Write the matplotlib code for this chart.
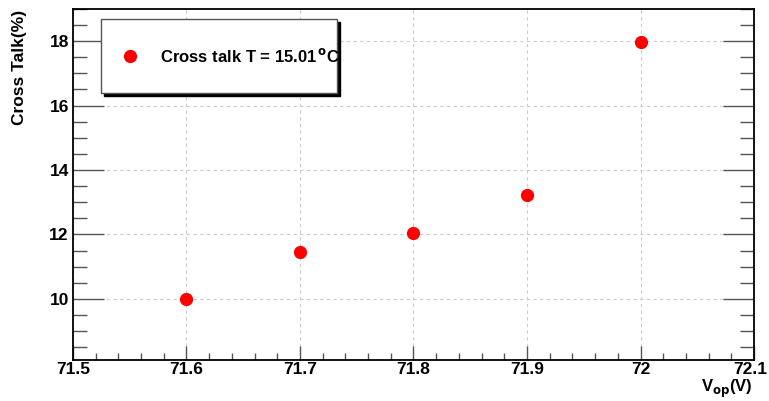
import matplotlib
matplotlib.use("Agg")
import matplotlib.pyplot as plt
import matplotlib.transforms as mtransforms
from matplotlib.ticker import MultipleLocator
from matplotlib.patches import Rectangle

plt.rcParams['font.family'] = ['Liberation Sans', 'DejaVu Sans']
plt.rcParams['font.weight'] = 'bold'
plt.rcParams['mathtext.default'] = 'bf'

# data
vop = [71.6, 71.7, 71.8, 71.9, 72.0]
cross_talk = [10.0, 11.45, 12.03, 13.22, 17.97]
x_ticks = [71.5, 71.6, 71.7, 71.8, 71.9, 72.0, 72.1]
x_tick_labels = ["71.5", "71.6", "71.7", "71.8", "71.9", "72", "72.1"]

fig = plt.figure(figsize=(7.69, 4.01), dpi=100)
ax = fig.add_axes([0.0949, 0.1022, 0.8856, 0.8754])

ax.plot(vop, cross_talk, 'o', color='#ff0000', markersize=8.5, zorder=3)

ax.set_xlim(71.5, 72.1)
ax.set_ylim(8.1, 19.0)
ax.set_xticks(x_ticks)
ax.set_xticklabels(x_tick_labels)
ax.xaxis.set_minor_locator(MultipleLocator(0.02))
ax.yaxis.set_major_locator(MultipleLocator(2))
ax.yaxis.set_minor_locator(MultipleLocator(0.5))

ax.grid(True, which='major', linestyle=(0, (3, 3)), color='#cccccc', linewidth=0.8)
ax.tick_params(which='both', direction='in', right=True, top=False, labelsize=12.5, color='#555555')
ax.tick_params(axis='y', which='major', length=22, width=1, pad=3)
ax.tick_params(axis='y', which='minor', length=10, width=1)
ax.tick_params(axis='x', which='major', length=10, width=1, pad=1.5)
ax.tick_params(axis='x', which='minor', length=5, width=1)
for lab in ax.get_xticklabels() + ax.get_yticklabels():
    lab.set_fontweight('bold')
for s in ax.spines.values():
    s.set_linewidth(1.3)

# keep the last x label inside the canvas
last = ax.get_xticklabels()[-1]
last.set_transform(last.get_transform() + mtransforms.ScaledTranslation(-4 / 100, 0, fig.dpi_scale_trans))

fig.text(0.025, 0.975, "Cross Talk(%)", rotation=90, ha='center', va='top',
         fontsize=12.5, fontweight='bold')
fig.text(0.979, 1 - 392 / 401, r"V$_{op}$(V)", ha='right', va='baseline',
         fontsize=12, fontweight='bold')

# legend box with shadow (ROOT style)
bx, by, bw, bh = 101 / 769, 1 - 93 / 401, 236 / 769, 74 / 401
fig.patches.append(Rectangle((bx + 3 / 769, by - 3 / 401), bw, bh, transform=fig.transFigure,
                             facecolor='black', edgecolor='black', zorder=4))
fig.patches.append(Rectangle((bx, by), bw, bh, transform=fig.transFigure,
                             facecolor='white', edgecolor='#555555', linewidth=1, zorder=5))
fig.lines.append(plt.Line2D([130 / 769], [1 - 56 / 401], marker='o', color='#ff0000',
                            markersize=8.5, transform=fig.transFigure, zorder=6))
fig.text(160 / 769, 1 - 56 / 401, r"Cross talk T = 15.01$^{\,o}$C", ha='left', va='center',
         fontsize=12, fontweight='bold', zorder=6)

fig.savefig("out.png", dpi=100)
